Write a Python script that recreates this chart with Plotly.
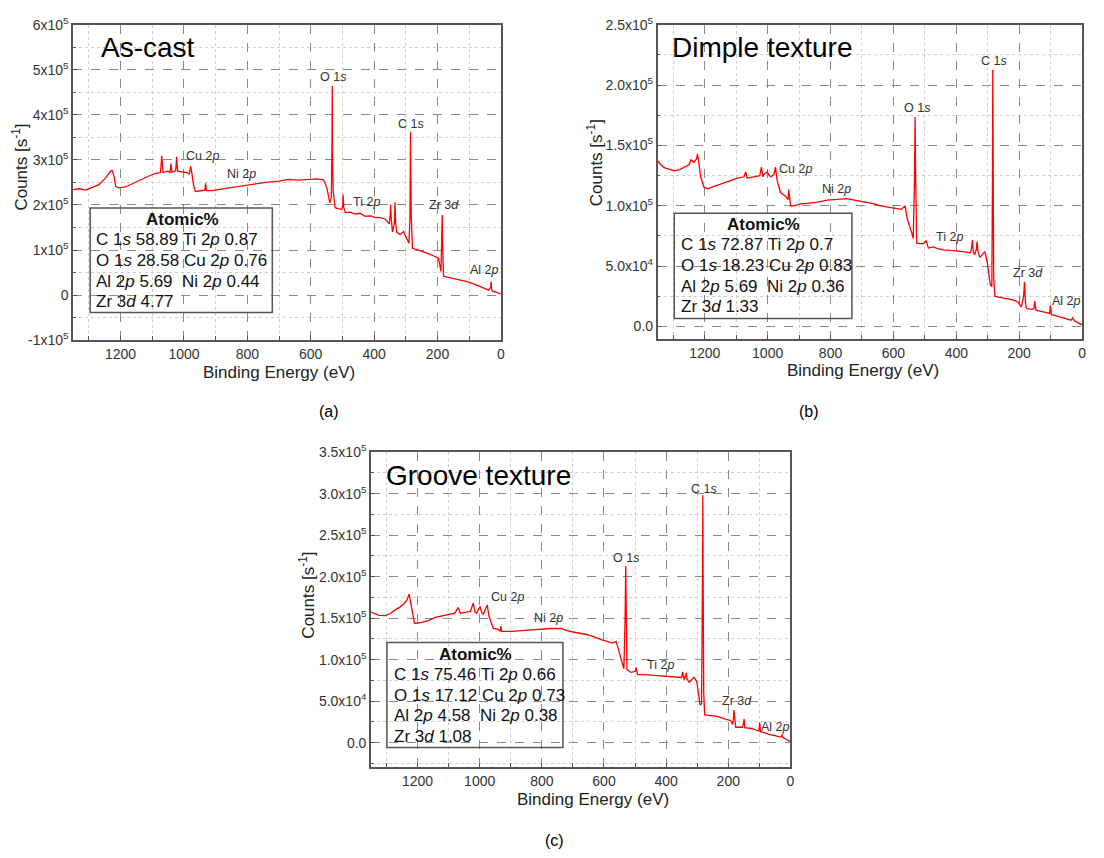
import plotly.graph_objects as go

W, H = 1104, 858

# ---------------- data ----------------
be_ascast = [1352, 1330, 1310, 1290, 1268, 1250, 1236, 1230, 1226, 1220, 1215, 1205, 1185, 1163, 1140, 1121,
             1105, 1090, 1074, 1070, 1066, 1050, 1044, 1041, 1038, 1026, 1023, 1020, 1005, 990, 983, 979, 975,
             970, 964, 943, 934, 932, 929, 911, 880, 848, 820, 796, 770, 743, 700, 670, 640, 607, 580, 560,
             549, 540, 535, 533, 532, 531, 529, 523, 502, 499, 498, 496, 491, 475, 460, 445, 428, 410, 397,
             380, 365, 352, 349, 348, 346, 342, 336, 334, 332, 329, 318, 307, 297, 290, 287, 285, 283, 279,
             265, 250, 235, 218, 197, 189, 186, 185, 183, 181, 170, 155, 135, 113, 90, 71, 50, 38, 32, 31,
             29, 27, 15, 8, 0]
cps_ascast = [234000, 236000, 233000, 238000, 245000, 258000, 272000, 276000, 276000, 262000, 241000, 238000,
              240000, 247000, 255000, 262000, 266000, 270000, 272000, 309000, 272000, 275000, 272000, 292000,
              273000, 276000, 307000, 275000, 274000, 272000, 268000, 286000, 270000, 245000, 230000, 232000,
              233000, 248000, 232000, 232000, 236000, 239000, 242000, 245000, 247000, 250000, 253000, 257000,
              255000, 257000, 258000, 256000, 238000, 205000, 215000, 330000, 464000, 300000, 230000, 194000,
              190000, 200000, 223000, 195000, 183000, 184000, 180000, 182000, 175000, 176000, 172000, 172000,
              169000, 158000, 180000, 201000, 170000, 140000, 160000, 206000, 160000, 140000, 134000, 141000,
              125000, 115000, 170000, 362000, 180000, 104000, 101000, 98000, 94000, 89000, 82000, 53000, 120000,
              178000, 90000, 42000, 40000, 38000, 35000, 31000, 26000, 20000, 15000, 11000, 18000, 30000, 14000,
              9000, 7000, 4000, 2000]

be_dimple = [1350, 1340, 1329, 1310, 1297, 1280, 1265, 1250, 1244, 1234, 1226, 1223, 1218, 1213, 1202, 1190,
             1181, 1160, 1139, 1115, 1096, 1075, 1070, 1065, 1044, 1025, 1020, 1015, 1012, 1001, 995, 989, 980,
             975, 970, 959, 943, 935, 933, 930, 927, 917, 895, 875, 840, 811, 780, 748, 720, 685, 660, 642, 620,
             600, 574, 563, 556, 542, 537, 533, 531, 529, 528, 526, 505, 496, 489, 473, 460, 442, 420, 399, 368,
             355, 351, 349, 346, 342, 336, 334, 331, 325, 309, 302, 292, 287, 285, 284, 282, 281, 277, 260, 241,
             220, 204, 193, 186, 183, 180, 177, 162, 153, 151, 148, 146, 130, 114, 103, 101, 99, 97, 85, 72, 50,
             35, 30, 25, 12, 0]
cps_dimple = [137300, 134000, 131600, 130000, 129000, 130000, 132000, 134000, 138000, 136000, 139000, 143000,
              134000, 124000, 115000, 114000, 115000, 117000, 119000, 121000, 123000, 124000, 128000, 123000,
              124000, 125000, 132000, 124000, 126000, 128000, 125000, 124000, 126000, 132000, 121000, 111000,
              108000, 105000, 113500, 104000, 100000, 100000, 101500, 102000, 103000, 104600, 105000, 106000,
              104500, 103000, 101500, 100000, 99000, 98000, 97000, 100000, 89000, 78000, 73000, 120000, 173500,
              120000, 80000, 69000, 68500, 71000, 65000, 66000, 64500, 63500, 63000, 62700, 61600, 61000, 66000,
              71600, 62000, 59500, 64000, 70300, 62000, 57300, 62000, 54000, 35000, 33000, 120000, 212700, 90000,
              40000, 24900, 24000, 23200, 22000, 20300, 16200, 25000, 37000, 20000, 14900, 14200, 14500, 20800,
              15000, 13500, 12600, 11400, 10800, 17600, 11000, 9800, 9000, 8100, 6500, 5200, 7200, 4800, 3000,
              1400]

be_groove = [1350, 1338, 1325, 1304, 1290, 1272, 1258, 1245, 1235, 1227, 1220, 1210, 1186, 1165, 1143, 1120,
             1101, 1080, 1069, 1062, 1047, 1030, 1021, 1015, 1010, 999, 993, 988, 976, 970, 956, 940, 934, 932,
             929, 924, 895, 866, 830, 801, 770, 737, 720, 695, 652, 630, 609, 572, 561, 554, 545, 536, 532, 530,
             528, 526, 513, 499, 497, 495, 492, 470, 449, 430, 406, 385, 363, 350, 347, 344, 342, 335, 333, 330,
             326, 310, 301, 291, 286, 283, 282, 281, 279, 276, 255, 235, 212, 192, 186, 183, 182, 179, 176, 158,
             154, 152, 149, 147, 125, 107, 101, 99, 97, 96, 80, 69, 50, 32, 27, 24, 12, 0]
cps_groove = [157400, 155000, 153400, 153000, 155000, 160000, 163000, 167000, 171000, 179000, 165000, 143600,
              145000, 147000, 151000, 153000, 155000, 156000, 163000, 156000, 157000, 158000, 168000, 157000,
              156000, 164000, 156000, 155000, 166000, 152000, 137700, 136500, 134000, 140000, 134000, 134000,
              134000, 135000, 136000, 137000, 137500, 137700, 135000, 133000, 130000, 127000, 124000, 120000,
              122000, 113000, 100000, 89000, 150000, 213000, 150000, 88000, 84600, 86000, 90500, 85000, 82000,
              82000, 81400, 80500, 80000, 79500, 78700, 78500, 85400, 80000, 76000, 84000, 77000, 75000, 72800,
              78700, 73000, 45200, 47000, 200000, 298000, 200000, 60000, 33400, 32500, 31500, 28500, 26400,
              22000, 30000, 39300, 25000, 18500, 18500, 18200, 22000, 28300, 18000, 17000, 14600, 14000, 24400,
              20000, 13200, 11500, 9800, 8500, 6700, 9000, 6200, 3800, 1200]

panel_titles = ["As-cast", "Dimple texture", "Groove texture"]
panel_letters = ["(a)", "(b)", "(c)"]
peak_names = ["O 1<i>s</i>", "C 1<i>s</i>", "Cu 2<i>p</i>", "Ni 2<i>p</i>", "Ti 2<i>p</i>",
              "Zr 3<i>d</i>", "Al 2<i>p</i>"]

atomic_ascast = ["C 1<i>s</i> 58.89 Ti 2<i>p</i> 0.87", "O 1<i>s</i> 28.58 Cu 2<i>p</i> 0.76",
                 "Al 2<i>p</i> 5.69  Ni 2<i>p</i> 0.44", "Zr 3<i>d</i> 4.77"]
atomic_dimple = ["C 1<i>s</i> 72.87 Ti 2<i>p</i> 0.7", "O 1<i>s</i> 18.23 Cu 2<i>p</i> 0.83",
                 "Al 2<i>p</i> 5.69  Ni 2<i>p</i> 0.36", "Zr 3<i>d</i> 1.33"]
atomic_groove = ["C 1<i>s</i> 75.46 Ti 2<i>p</i> 0.66", "O 1<i>s</i> 17.12 Cu 2<i>p</i> 0.73",
                 "Al 2<i>p</i> 4.58  Ni 2<i>p</i> 0.38", "Zr 3<i>d</i> 1.08"]

yticks_a = [-1e5, 0, 1e5, 2e5, 3e5, 4e5, 5e5, 6e5]
ytext_a = ["-1x10<sup>5</sup>", "0", "1x10<sup>5</sup>", "2x10<sup>5</sup>", "3x10<sup>5</sup>",
           "4x10<sup>5</sup>", "5x10<sup>5</sup>", "6x10<sup>5</sup>"]
yticks_b = [0, 5e4, 1e5, 1.5e5, 2e5, 2.5e5]
ytext_b = ["0.0", "5.0x10<sup>4</sup>", "1.0x10<sup>5</sup>", "1.5x10<sup>5</sup>", "2.0x10<sup>5</sup>",
           "2.5x10<sup>5</sup>"]
yticks_c = [0, 5e4, 1e5, 1.5e5, 2e5, 2.5e5, 3e5, 3.5e5]
ytext_c = ["0.0", "5.0x10<sup>4</sup>", "1.0x10<sup>5</sup>", "1.5x10<sup>5</sup>", "2.0x10<sup>5</sup>",
           "2.5x10<sup>5</sup>", "3.0x10<sup>5</sup>", "3.5x10<sup>5</sup>"]

# ---------------- figure ----------------
FONT = "Liberation Sans, Arial, sans-serif"
fig = go.Figure()


def px(x):
    return x / W


def py(y):
    return 1 - y / H


panels = [
    ("a", "", be_ascast, cps_ascast, (73.3, 502.7), (15, 337.3), [-1e5, 6e5], yticks_a, ytext_a, 5e4),
    ("b", "2", be_dimple, cps_dimple, (660, 1086), (15, 336), [-1.03e4, 2.5e5], yticks_b, ytext_b, 2.5e4),
    ("c", "3", be_groove, cps_groove, (372.3, 793.3), (451.7, 773.3), [-2.95e4, 3.5e5], yticks_c, ytext_c, 2.5e4),
]

for name, ax, be, cps, xd, yd, yr, yt, ytx, ymin in panels:
    fig.add_trace(go.Scatter(x=be, y=cps, mode="lines", line=dict(color="#ff0000", width=1.3),
                             xaxis="x" + ax, yaxis="y" + ax, showlegend=False, hoverinfo="skip"))
    common = dict(showline=True, mirror=True, linecolor="#555555", linewidth=1.5,
                  showgrid=True, gridcolor="#8a8a8a", griddash="dash", gridwidth=1,
                  zeroline=False, ticks="inside", ticklen=4, tickcolor="#555555",
                  tickfont=dict(family=FONT, size=14, color="#333333"))
    xa = dict(common, domain=[px(xd[0]), px(xd[1])], range=[1350, 0], tickmode="linear", tick0=0, dtick=200,
              anchor="y" + ax,
              minor=dict(dtick=100, tick0=0, showgrid=True, gridcolor="#cfcfcf", griddash="dot",
                         ticks="inside", ticklen=4, tickcolor="#555555"))
    ya = dict(common, domain=[py(yd[1]), py(yd[0])], range=yr, tickmode="array", tickvals=yt, ticktext=ytx,
              anchor="x" + ax,
              minor=dict(tickmode="array",
                         tickvals=[v + ymin for v in yt[:-1]] + [yt[0] - ymin],
                         showgrid=True, gridcolor="#cfcfcf", griddash="dot",
                         ticks="inside", ticklen=3, tickcolor="#555555"))
    fig.update_layout({("xaxis" + ax): xa, ("yaxis" + ax): ya})

annotations = []
shapes = []


def ann(x, y, text, size, bold=False, anchor="center", color="#222222", angle=0):
    annotations.append(dict(xref="paper", yref="paper", x=px(x), y=py(y),
                            text=("<b>%s</b>" % text) if bold else text,
                            showarrow=False, xanchor=anchor, yanchor="middle", textangle=angle,
                            font=dict(family=FONT, size=size, color=color)))


# panel titles
ann(149, 38, panel_titles[0], 28, color="#000000")
ann(765, 38, panel_titles[1], 28, color="#000000")
ann(480, 475, panel_titles[2], 28, color="#000000")

# peak labels: O, C, Cu, Ni, Ti, Zr, Al
lab_a = [(334, 68), (412, 116), (203, 149), (242, 168), (368, 196), (446, 199), (486, 266)]
lab_b = [(920.7, 100), (997.7, 52), (798, 162), (840, 183), (953, 232), (1031.7, 269), (1070, 297)]
lab_c = [(628.3, 559.3), (706.7, 489.3), (509, 599.3), (550, 620.7), (662.7, 669.3), (740, 706), (778.3, 732.3)]
for labs in (lab_a, lab_b, lab_c):
    for (x, y), t in zip(labs, peak_names):
        ann(x, y, t, 12.5, color="#333333")

# atomic % boxes
boxes = [((90.5, 202.3, 273.3, 309), (182.7, 214), 94.5, [234, 256, 277, 298], atomic_ascast),
         ((676.7, 207.7, 855, 315), (766.7, 219), 681.5, [240, 261, 282, 303], atomic_dimple),
         ((388.3, 646, 565, 753.3), (477.3, 658.3), 393, [678.3, 700, 721, 742.3], atomic_groove)]
for (x0, y0, x1, y1), (tx, ty), lx, lys, lines in boxes:
    shapes.append(dict(type="rect", xref="paper", yref="paper", x0=px(x0), x1=px(x1), y0=py(y1), y1=py(y0),
                       line=dict(color="#555555", width=1.5), fillcolor="rgba(255,255,255,0)"))
    ann(tx, ty, "Atomic%", 17, bold=True, color="#111111")
    for yy, t in zip(lys, lines):
        ann(lx, yy, t, 17, anchor="left", color="#111111")

# axis titles
ann(280, 370, "Binding Energy (eV)", 17, color="#222222")
ann(866, 368, "Binding Energy (eV)", 17, color="#222222")
ann(595, 806, "Binding Energy (eV)", 17, color="#222222")
ann(20, 160, "Counts [s<sup>-1</sup>]", 17, color="#222222", angle=-90)
ann(596.7, 156, "Counts [s<sup>-1</sup>]", 17, color="#222222", angle=-90)
ann(308.3, 598, "Counts [s<sup>-1</sup>]", 17, color="#222222", angle=-90)

# panel letters
ann(330, 410, panel_letters[0], 16, color="#000000")
ann(812, 410, panel_letters[1], 16, color="#000000")
ann(557, 848, panel_letters[2], 16, color="#000000")

fig.update_layout(width=W, height=H, margin=dict(l=0, r=0, t=0, b=0), paper_bgcolor="white",
                  plot_bgcolor="white", annotations=annotations, shapes=shapes, showlegend=False)

fig.write_html("out.html", config={"displayModeBar": False},
               post_script="document.body.style.margin='0';document.body.style.overflow='hidden';")
